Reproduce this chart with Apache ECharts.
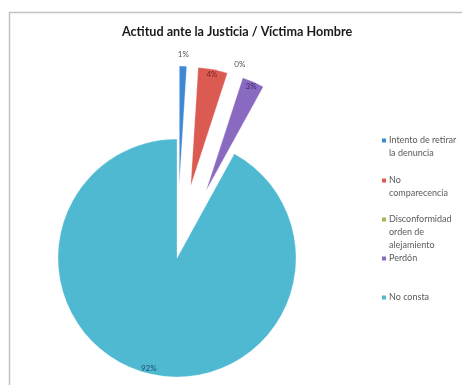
<!DOCTYPE html>
<html>
<head>
<meta charset="utf-8">
<script src="https://cdn.jsdelivr.net/npm/echarts@6/dist/echarts.min.js"></script>
<style>
html,body{margin:0;padding:0;background:#fff;}
#chart{width:462px;height:385px;}
</style>
</head>
<body>
<div id="chart"></div>
<script>
// ---- data ----
const titleText = 'Actitud ante la Justicia / Víctima Hombre';
const categories = ['Intento de retirar la denuncia', 'No comparecencia', 'Disconformidad orden de alejamiento', 'Perdón', 'No consta'];
const values = [1, 4, 0, 3, 92];
const legendLabels = ['Intento de retirar\nla denuncia', 'No\ncomparecencia', 'Disconformidad\norden de\nalejamiento', 'Perdón', 'No consta'];
const exploded = [true, true, true, true, false];
const labelPlacement = ['outside', 'inside', 'outside', 'inside', 'inside'];

// ---- styles ----
const colors = ['#3F88D6', '#DB5A52', '#9BBB59', '#8A6AC0', '#4EB9D1'];
const labelColors = ['#555555', '#7a2420', '#555555', '#3a2a6a', '#1f4f6e'];
const center = [177, 258];
const R = 119;
const offset = 73;
const legendTops = [134, 174, 213, 252, 291];
const LH = 13, SQ = 4;

const chart = echarts.init(document.getElementById('chart'), null, {renderer: 'canvas'});

function mainData() {
  return categories.map((c, i) => ({
    name: c, value: values[i], selected: exploded[i],
    itemStyle: {color: colors[i]}
  }));
}
function labelData(where) {
  return categories.map((c, i) => ({
    name: c, value: values[i], selected: exploded[i],
    itemStyle: {color: 'rgba(0,0,0,0)'},
    label: {show: labelPlacement[i] === where, color: labelColors[i]}
  }));
}
// marker aligned with first text line: square at top of a taller (invisible) icon box
function legendIcon(i) {
  const n = legendLabels[i].split('\n').length;
  const h = n === 1 ? SQ : n * LH - 9;
  return {
    h: h,
    icon: n === 1 ? 'rect' : 'path://M0 0H' + SQ + 'V' + SQ + 'H0Z M0 ' + h + 'L' + SQ + ' ' + h
  };
}
const labelBase = {
  position: 'inside',
  formatter: '{c}%',
  fontFamily: 'Lato, "Liberation Sans", sans-serif',
  fontSize: 8
};

const option = {
  animation: false,
  color: colors,
  graphic: [{
    type: 'rect', left: 7, top: 10,
    shape: {width: 470, height: 390},
    style: {fill: 'none', stroke: '#c4c4c4', lineWidth: 1.5},
    silent: true
  }],
  title: {
    text: titleText,
    left: 232, top: 20, textAlign: 'center',
    textStyle: {fontFamily: 'Lato, "Liberation Sans", sans-serif', fontSize: 12.6, fontWeight: 'bold', color: '#1a1a1a'}
  },
  legend: categories.map((c, i) => {
    const ic = legendIcon(i);
    return {
      data: [c],
      orient: 'vertical',
      left: 382, top: legendTops[i], padding: 0,
      icon: ic.icon, itemWidth: SQ, itemHeight: ic.h, itemGap: 4,
      itemStyle: {borderWidth: 0},
      selectedMode: false,
      formatter: function () { return legendLabels[i]; },
      textStyle: {fontFamily: 'Lato, "Liberation Sans", sans-serif', fontSize: 9, color: '#5a5a5a', lineHeight: LH, padding: [0, 0, 0, -2]}
    };
  }),
  series: [
    {
      type: 'pie', name: 'main',
      center: center, radius: R,
      startAngle: 90, clockwise: true,
      selectedMode: 'multiple', selectedOffset: offset,
      avoidLabelOverlap: false,
      label: {show: false}, labelLine: {show: false},
      emphasis: {disabled: true},
      itemStyle: {borderColor: 'rgba(255,255,255,0.6)', borderWidth: 0.5},
      data: mainData()
    },
    {
      type: 'pie', name: 'labelsInside', silent: true, legendHoverLink: false,
      center: center, radius: [R * 0.86, R],
      startAngle: 90, clockwise: true,
      selectedMode: 'multiple', selectedOffset: offset,
      avoidLabelOverlap: false,
      label: Object.assign({}, labelBase), labelLine: {show: false},
      emphasis: {disabled: true},
      data: labelData('inside')
    },
    {
      type: 'pie', name: 'labelsOutside', silent: true, legendHoverLink: false,
      center: center, radius: [R, R * 1.14],
      startAngle: 90, clockwise: true,
      selectedMode: 'multiple', selectedOffset: offset,
      avoidLabelOverlap: false,
      label: Object.assign({}, labelBase), labelLine: {show: false},
      emphasis: {disabled: true},
      data: labelData('outside')
    }
  ]
};
chart.setOption(option);
</script>
</body>
</html>
